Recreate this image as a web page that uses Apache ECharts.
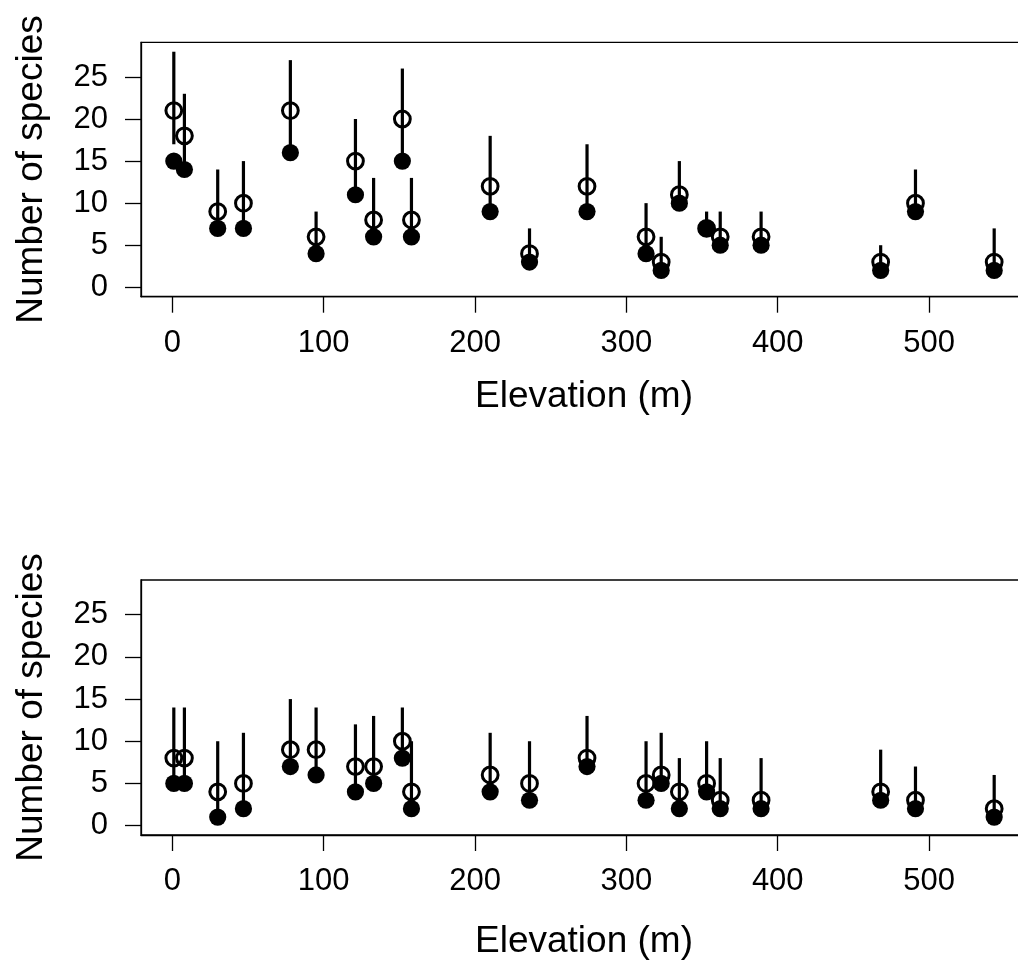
<!DOCTYPE html>
<html>
<head>
<meta charset="utf-8">
<script src="https://cdn.jsdelivr.net/npm/echarts@6/dist/echarts.min.js"></script>
<style>
html,body{margin:0;padding:0;background:#fff;overflow:hidden;}
#chart{width:1040px;height:964px;}
</style>
</head>
<body>
<div id="chart"></div>
<script>
// Site elevations (m)
const elevation = [1, 8, 30, 47, 78, 95, 121, 133, 152, 158, 210, 236, 274, 313, 323, 335, 353, 362, 389, 468, 491, 543];

// Top panel
const estTop   = [21, 18, 9, 10, 21, 6, 15, 8, 20, 8, 12, 4, 12, 6, 3, 11, 7, 6, 6, 3, 10, 3];
const obsTop   = [15, 14, 7, 7, 16, 4, 11, 6, 15, 6, 9, 3, 9, 4, 2, 10, 7, 5, 5, 2, 9, 2];
const lowerTop = [17, 14, 7, 7, 16, 4, 11, 6, 15, 6, 9, 3, 9, 4, 2, 10, 7, 5, 5, 2, 9, 2];
const upperTop = [28, 23, 14, 15, 27, 9, 20, 13, 26, 13, 18, 7, 17, 10, 6, 15, 9, 9, 9, 5, 14, 7];

// Bottom panel
const estBot   = [8, 8, 4, 5, 9, 9, 7, 7, 10, 4, 6, 5, 8, 5, 6, 4, 5, 3, 3, 4, 3, 2];
const obsBot   = [5, 5, 1, 2, 7, 6, 4, 5, 8, 2, 4, 3, 7, 3, 5, 2, 4, 2, 2, 3, 2, 1];
const lowerBot = [5, 5, 1, 2, 7, 6, 4, 5, 8, 2, 4, 3, 7, 3, 5, 2, 4, 2, 2, 3, 2, 1];
const upperBot = [14, 14, 10, 11, 15, 14, 12, 13, 14, 10, 11, 10, 13, 10, 11, 8, 10, 8, 8, 9, 7, 6];

const xTicks = [0, 100, 200, 300, 400, 500];
const yTicks = [0, 5, 10, 15, 20, 25];
const xTitle = 'Elevation (m)';
const yTitle = 'Number of species';

const FONT = '"Liberation Sans", Arial, Helvetica, sans-serif';

// R-style 4% axis extension
const xMinD = Math.min(...elevation), xMaxD = Math.max(...elevation);
const xExt = (xMaxD - xMinD) * 0.04;
const yMinD = 0, yMaxD = 28;
const yExt = (yMaxD - yMinD) * 0.04;

function xAxisCfg(idx, gap) {
  return {
    type: 'value', gridIndex: idx,
    min: xMinD - xExt, max: xMaxD + xExt,
    name: xTitle, nameLocation: 'middle', nameGap: gap,
    nameTextStyle: { fontSize: 37, color: '#000', fontFamily: FONT },
    axisLine: { show: true, onZero: false, lineStyle: { color: '#000', width: 1.3 } },
    axisTick: { show: true, inside: false, length: 16, customValues: xTicks, lineStyle: { color: '#000', width: 1.3 } },
    axisLabel: { show: true, margin: 31, fontSize: 31, color: '#000', fontFamily: FONT, customValues: xTicks },
    splitLine: { show: false }
  };
}
function yAxisCfg(idx) {
  return {
    type: 'value', gridIndex: idx,
    min: yMinD - yExt, max: yMaxD + yExt,
    name: yTitle, nameLocation: 'middle', nameGap: 91, nameRotate: 90,
    nameTextStyle: { fontSize: 37, color: '#000', fontFamily: FONT },
    axisLine: { show: true, onZero: false, lineStyle: { color: '#000', width: 1.3 } },
    axisTick: { show: true, inside: false, length: 16, customValues: yTicks, lineStyle: { color: '#000', width: 1.3 } },
    axisLabel: { show: true, margin: 33, fontSize: 31, color: '#000', fontFamily: FONT, customValues: yTicks },
    splitLine: { show: false }
  };
}

function seriesFor(idx, est, obs, lo, hi) {
  const rangeData = elevation.map((x, i) => [x, lo[i], hi[i]]);
  const estData = elevation.map((x, i) => [x, est[i]]);
  const obsData = elevation.map((x, i) => [x, obs[i]]);
  return [
    {
      type: 'custom', xAxisIndex: idx, yAxisIndex: idx,
      data: rangeData,
      encode: { x: 0, y: [1, 2] },
      renderItem: function (params, api) {
        const p1 = api.coord([api.value(0), api.value(1)]);
        const p2 = api.coord([api.value(0), api.value(2)]);
        return {
          type: 'line',
          shape: { x1: p1[0], y1: p1[1], x2: p2[0], y2: p2[1] },
          style: { stroke: '#000', lineWidth: 3.2, lineCap: 'butt' }
        };
      },
      z: 2
    },
    {
      type: 'scatter', xAxisIndex: idx, yAxisIndex: idx,
      data: estData, symbol: 'circle', symbolSize: 15.8,
      itemStyle: { color: 'rgba(0,0,0,0)', borderColor: '#000', borderWidth: 3, opacity: 1 },
      z: 3
    },
    {
      type: 'scatter', xAxisIndex: idx, yAxisIndex: idx,
      data: obsData, symbol: 'circle', symbolSize: 17.2,
      itemStyle: { color: '#000', borderWidth: 0, opacity: 1 },
      z: 4
    }
  ];
}

const chart = echarts.init(document.getElementById('chart'), null, { renderer: 'canvas' });
chart.setOption({
  animation: false,
  backgroundColor: '#fff',
  grid: [
    { left: 141, top: 42.3, width: 886, height: 254.4, show: true, borderColor: '#000', borderWidth: 1.3, backgroundColor: 'transparent' },
    { left: 141, top: 580, width: 886, height: 255, show: true, borderColor: '#000', borderWidth: 1.3, backgroundColor: 'transparent' }
  ],
  xAxis: [xAxisCfg(0, 82), xAxisCfg(1, 88)],
  yAxis: [yAxisCfg(0), yAxisCfg(1)],
  series: [].concat(
    seriesFor(0, estTop, obsTop, lowerTop, upperTop),
    seriesFor(1, estBot, obsBot, lowerBot, upperBot)
  )
});
</script>
</body>
</html>
